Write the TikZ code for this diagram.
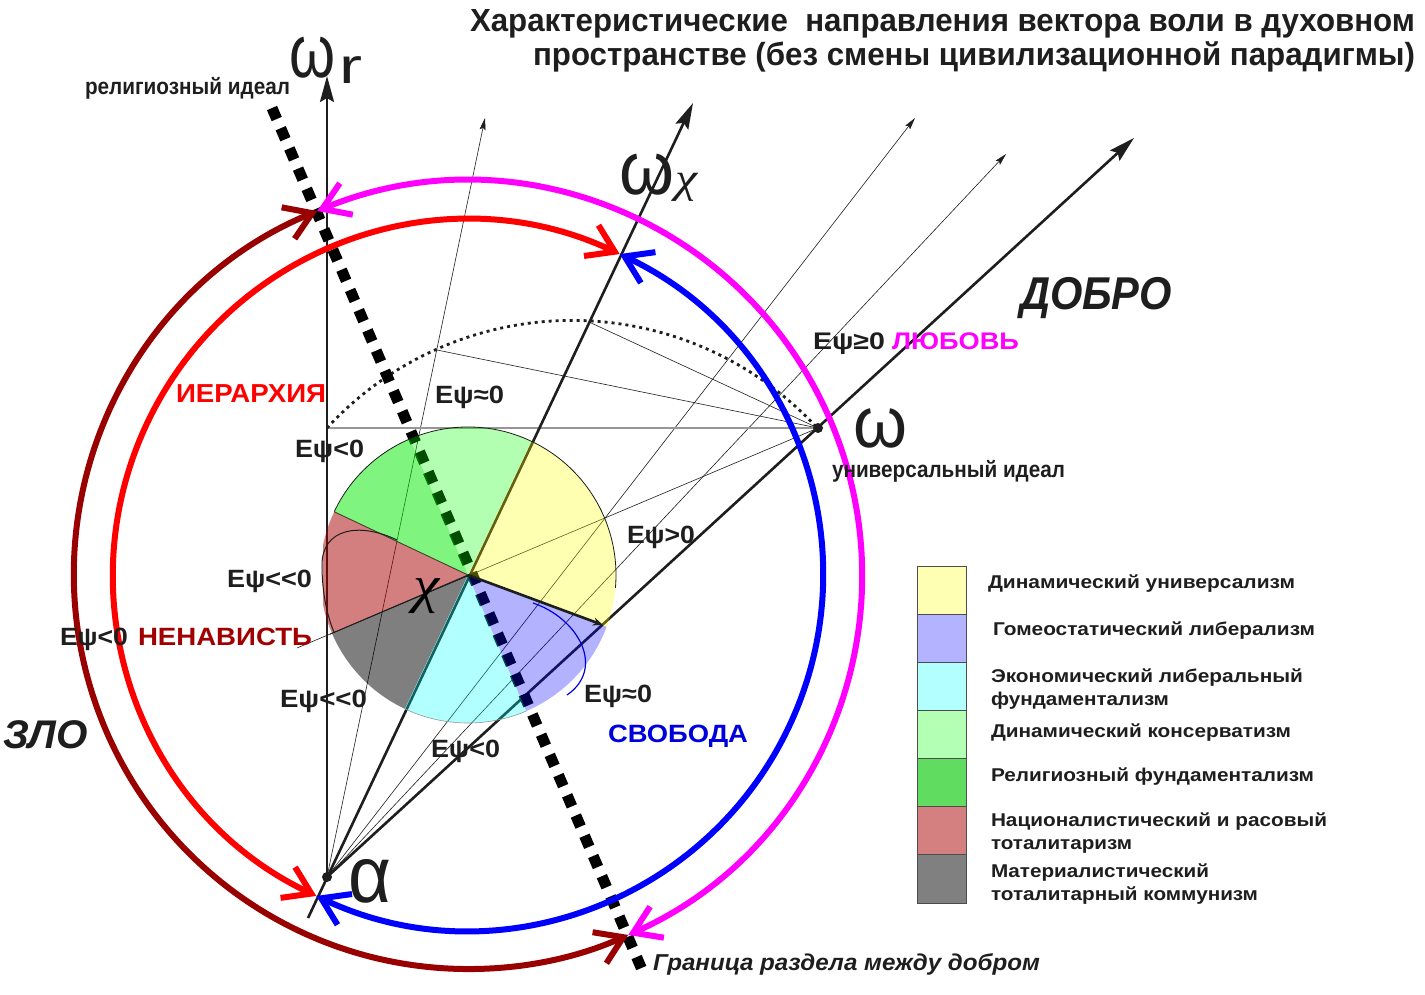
\documentclass[tikz,border=0pt]{standalone}
\usepackage{fontspec}
\usepackage{graphicx}
\setmainfont{Liberation Sans}
\newfontfamily\grserif{Liberation Serif}
\usetikzlibrary{arrows.meta}
\definecolor{cMag}{RGB}{255,0,255}
\definecolor{cRed}{RGB}{255,0,0}
\definecolor{cDRed}{RGB}{153,0,0}
\definecolor{cBlue}{RGB}{0,0,255}
\definecolor{lgYellow}{RGB}{255,255,179}
\definecolor{lgLav}{RGB}{179,179,255}
\definecolor{lgCyan}{RGB}{179,255,255}
\definecolor{lgLGreen}{RGB}{179,255,179}
\definecolor{lgGreen}{RGB}{96,220,96}
\definecolor{lgRose}{RGB}{212,128,128}
\definecolor{lgGray}{RGB}{128,128,128}
\definecolor{txtDRed}{RGB}{160,0,0}
\definecolor{txtBlue}{RGB}{0,0,220}
\definecolor{ink}{RGB}{30,30,30}
\definecolor{pieRed}{RGB}{168,0,0}
\definecolor{pieGreen}{RGB}{0,235,0}
\definecolor{pYellow}{RGB}{255,255,0}
\definecolor{pBlue}{RGB}{0,0,255}
\definecolor{pCyan}{RGB}{0,255,255}
\definecolor{pLGreen}{RGB}{0,255,0}
\definecolor{pBlack}{RGB}{0,0,0}
\definecolor{lineGray}{RGB}{150,150,150}
\newcommand\tw[2]{\resizebox{#1pt}{\height}{#2}}
\newcommand\fs[1]{\fontsize{#1}{#1}\selectfont}
\begin{document}
\begin{tikzpicture}[x=1pt,y=-1pt,
  every node/.style={inner sep=0pt, outer sep=0pt},
  lab/.style={anchor=base west, text=ink, font=\bfseries\fs{25}},
  labE/.style={anchor=base east, text=ink, font=\bfseries\fs{32}},
  leg/.style={anchor=base west, text=ink, font=\bfseries\fs{18.5}},
  big/.style={anchor=base west, text=ink, font=\fs{75}},
  axisline/.style={line width=2.6pt, draw=ink, -{Stealth[length=26pt,width=14pt,inset=4pt]}},
  thinarrow/.style={line width=0.6pt, draw=ink, -{Stealth[length=12pt,width=6pt,inset=2pt]}},
  thinline/.style={line width=0.6pt, draw=ink},
  bigarc/.style={line width=6pt, {Straight Barb[length=26pt,width=34pt]}-{Straight Barb[length=26pt,width=34pt]}},
  legbox/.style={draw=gray!60!black, line width=0.8pt}
]
\fill[white] (0,0) rectangle (1425,994);
\useasboundingbox (0,0) rectangle (1425,994);

% key points
\coordinate (al) at (327,877);
\coordinate (om) at (818,428);
\coordinate (chi) at (468,575);
\coordinate (rtip) at (327,76);
\coordinate (xtip) at (693,103);
\coordinate (xlow) at (308,918);
\coordinate (wtip) at (1134,138);
\coordinate (t1) at (485,118);
\coordinate (t2) at (915,118);
\coordinate (t3) at (1006,154);
\coordinate (hl) at (327,428);
\coordinate (d1) at (437,350);
\coordinate (d2) at (589,322);
\coordinate (ext) at (297,648);
\coordinate (bt) at (272,108);
\coordinate (bb) at (643,972);
\coordinate (yb) at (603,625);

% thin fan from alpha
\draw[thinarrow] (al) -- (t1);
\draw[thinarrow] (al) -- (t2);
\draw[thinarrow] (al) -- (t3);
% thin fan from omega
\draw[thinline] (om) -- (d1);
\draw[thinline] (om) -- (d2);
\draw[thinline] (om) -- (ext);
\draw[line width=1.4pt, draw=lineGray] (om) -- (hl);
% dotted arc
\draw[line width=2.8pt, draw=ink, dash pattern=on 3pt off 4pt] (hl) arc[start angle=222.6, end angle=317.6, radius=333];

% axes
\draw[axisline] (al) -- (rtip);
\draw[axisline] (xlow) -- (xtip);
\draw[axisline] (al) -- (wtip);

% boundary between good and evil
\draw[line width=11pt, draw=pBlack, dash pattern=on 12pt off 10pt] (bt) -- (bb);

% pie
\fill[pYellow, fill opacity=0.3] (chi) -- ++(-64.7:148) arc[start angle=-64.7, end angle=20.5, radius=148] -- cycle;
\fill[pBlue, fill opacity=0.3] (chi) -- ++(20.5:148) arc[start angle=20.5, end angle=66.8, radius=148] -- cycle;
\fill[pCyan, fill opacity=0.3] (chi) -- ++(66.8:148) arc[start angle=66.8, end angle=115.3, radius=148] -- cycle;
\fill[pBlack, fill opacity=0.5] (chi) -- ++(115.3:148) arc[start angle=115.3, end angle=156.8, radius=148] -- cycle;
\begin{scope}
\clip (323,0) rectangle (700,994);
\fill[pieRed, fill opacity=0.5] (chi) -- ++(156.8:148) arc[start angle=156.8, end angle=205.3, radius=148] -- cycle;
\end{scope}
\fill[pieGreen, fill opacity=0.5] (chi) -- ++(205.3:148) arc[start angle=205.3, end angle=246.8, radius=148] -- cycle;
\fill[pLGreen, fill opacity=0.3] (chi) -- ++(246.8:148) arc[start angle=246.8, end angle=295.3, radius=148] -- cycle;
% pie edges
\draw[line width=0.8pt, draw=ink] (chi) ++(205.3:148) arc[start angle=205.3, end angle=365, radius=148];
\draw[line width=0.6pt, draw=lineGray] (chi) ++(66.8:148) arc[start angle=66.8, end angle=115.3, radius=148];
\draw[line width=0.9pt, draw=ink] (chi) -- ++(156.8:150);
\draw[line width=0.9pt, draw=black!70!olive] (chi) -- ++(205.3:148);
\draw[line width=1pt, draw=ink] (397,540) .. controls (360,522) and (322,528) .. (322,565) .. controls (322,595) and (328,618) .. (334,632);
\draw[line width=1.2pt, draw=cBlue!85!black] (533,603) .. controls (578,618) and (606,668) .. (567,695);
\draw[line width=2.6pt, draw=ink, -{Stealth[length=10pt,width=8pt]}] (chi) -- (yb);

% colored arcs
\path (chi) ++(-64.7:355) coordinate (itop);
\path (chi) ++(-112.5:394) coordinate (otop);
\draw[bigarc, draw=cRed] (itop) arc[start angle=-64.7, end angle=-244.7, radius=355];
\draw[bigarc, draw=cBlue] (itop) arc[start angle=-64.7, end angle=115.3, radius=355];
\draw[bigarc, draw=cDRed] (otop) arc[start angle=-112.5, end angle=-294, radius=394];
\draw[bigarc, draw=cMag] (otop) arc[start angle=-112.5, end angle=66, radius=394];

% dots
\fill[ink] (al) circle[radius=5];
\fill[ink] (om) circle[radius=5];

% big symbols
\node[big] (wr) at (289,77) {\tw{46}{ω}};
\node[big, font=\fs{50}] (wrsub) at (339,83) {\tw{23}{r}};
\node[big] (wx) at (619,194) {\tw{55}{ω}};
\node[big, font=\grserif\itshape\fs{42}] (wxsub) at (675,192) {\tw{22}{χ}};
\node[big, font=\fs{72}] (wu) at (853,447) {\tw{54}{ω}};
\node[big, font=\fs{80}] (alpha) at (348,902) {\tw{43}{α}};
\node[big, text=black, font=\grserif\itshape\fs{52}] (chilab) at (413,602) {\tw{26}{χ}};

% title
\node[labE] (title1) at (1415,31) {\tw{945}{Характеристические\ \ направления вектора воли в духовном}};
\node[labE] (title2) at (1415,65) {\tw{882}{пространстве (без смены цивилизационной парадигмы)}};

% labels
\node[lab, font=\bfseries\fs{23}] (relid) at (85,94) {\tw{205}{религиозный идеал}};
\node[lab, font=\bfseries\itshape\fs{46}] (dobro) at (1020,309) {\tw{152}{ДОБРО}};
\node[lab, font=\bfseries\fs{24}] (e1) at (813,349) {\tw{72}{Eψ≥0}};
\node[lab, text=cMag, font=\bfseries\fs{24}] (lub) at (892,349) {\tw{127}{ЛЮБОВЬ}};
\node[lab, font=\bfseries\fs{23}] (unid) at (832,477) {\tw{233}{универсальный идеал}};
\node[lab, text=cRed, font=\bfseries\fs{26}] (ier) at (176,402) {\tw{150}{ИЕРАРХИЯ}};
\node[lab] (e2) at (435,403) {\tw{69}{Eψ≈0}};
\node[lab] (e3) at (295,457) {\tw{69}{Eψ<0}};
\node[lab] (e4) at (227,587) {\tw{85}{Eψ<{}<0}};
\node[lab] (e5) at (627,543) {\tw{68}{Eψ>0}};
\node[lab] (e6) at (60,645) {\tw{68}{Eψ<0}};
\node[lab, text=txtDRed] (nen) at (138,645) {\tw{174}{НЕНАВИСТЬ}};
\node[lab] (e7) at (280,707) {\tw{87}{Eψ<{}<0}};
\node[lab] (e8) at (584,702) {\tw{68}{Eψ≈0}};
\node[lab, text=txtBlue] (svob) at (608,742) {\tw{140}{СВОБОДА}};
\node[lab] (e9) at (431,757) {\tw{69}{Eψ<0}};
\node[lab, font=\bfseries\itshape\fs{40}] (zlo) at (3,748) {\tw{85}{ЗЛО}};
\node[lab, font=\bfseries\itshape\fs{23}] (gran) at (653,970) {\tw{387}{Граница раздела между добром}};

% legend
\filldraw[legbox, fill=lgYellow] (917,566) rectangle (966,614);
\filldraw[legbox, fill=lgLav] (917,614) rectangle (966,662);
\filldraw[legbox, fill=lgCyan] (917,662) rectangle (966,710);
\filldraw[legbox, fill=lgLGreen] (917,710) rectangle (966,758);
\filldraw[legbox, fill=lgGreen] (917,758) rectangle (966,806);
\filldraw[legbox, fill=lgRose] (917,806) rectangle (966,854);
\filldraw[legbox, fill=lgGray] (917,854) rectangle (966,903);
\node[leg] (l1) at (988,588) {\tw{307}{Динамический универсализм}};
\node[leg] (l2) at (993,635) {\tw{322}{Гомеостатический либерализм}};
\node[leg] (l3a) at (991,682) {\tw{312}{Экономический либеральный}};
\node[leg] (l3b) at (991,705) {\tw{178}{фундаментализм}};
\node[leg] (l4) at (991,737) {\tw{300}{Динамический консерватизм}};
\node[leg] (l5) at (991,781) {\tw{323}{Религиозный фундаментализм}};
\node[leg] (l6a) at (991,826) {\tw{336}{Националистический и расовый}};
\node[leg] (l6b) at (991,849) {\tw{141}{тоталитаризм}};
\node[leg] (l7a) at (991,877) {\tw{218}{Материалистический}};
\node[leg] (l7b) at (991,900) {\tw{267}{тоталитарный коммунизм}};
\end{tikzpicture}
\end{document}
